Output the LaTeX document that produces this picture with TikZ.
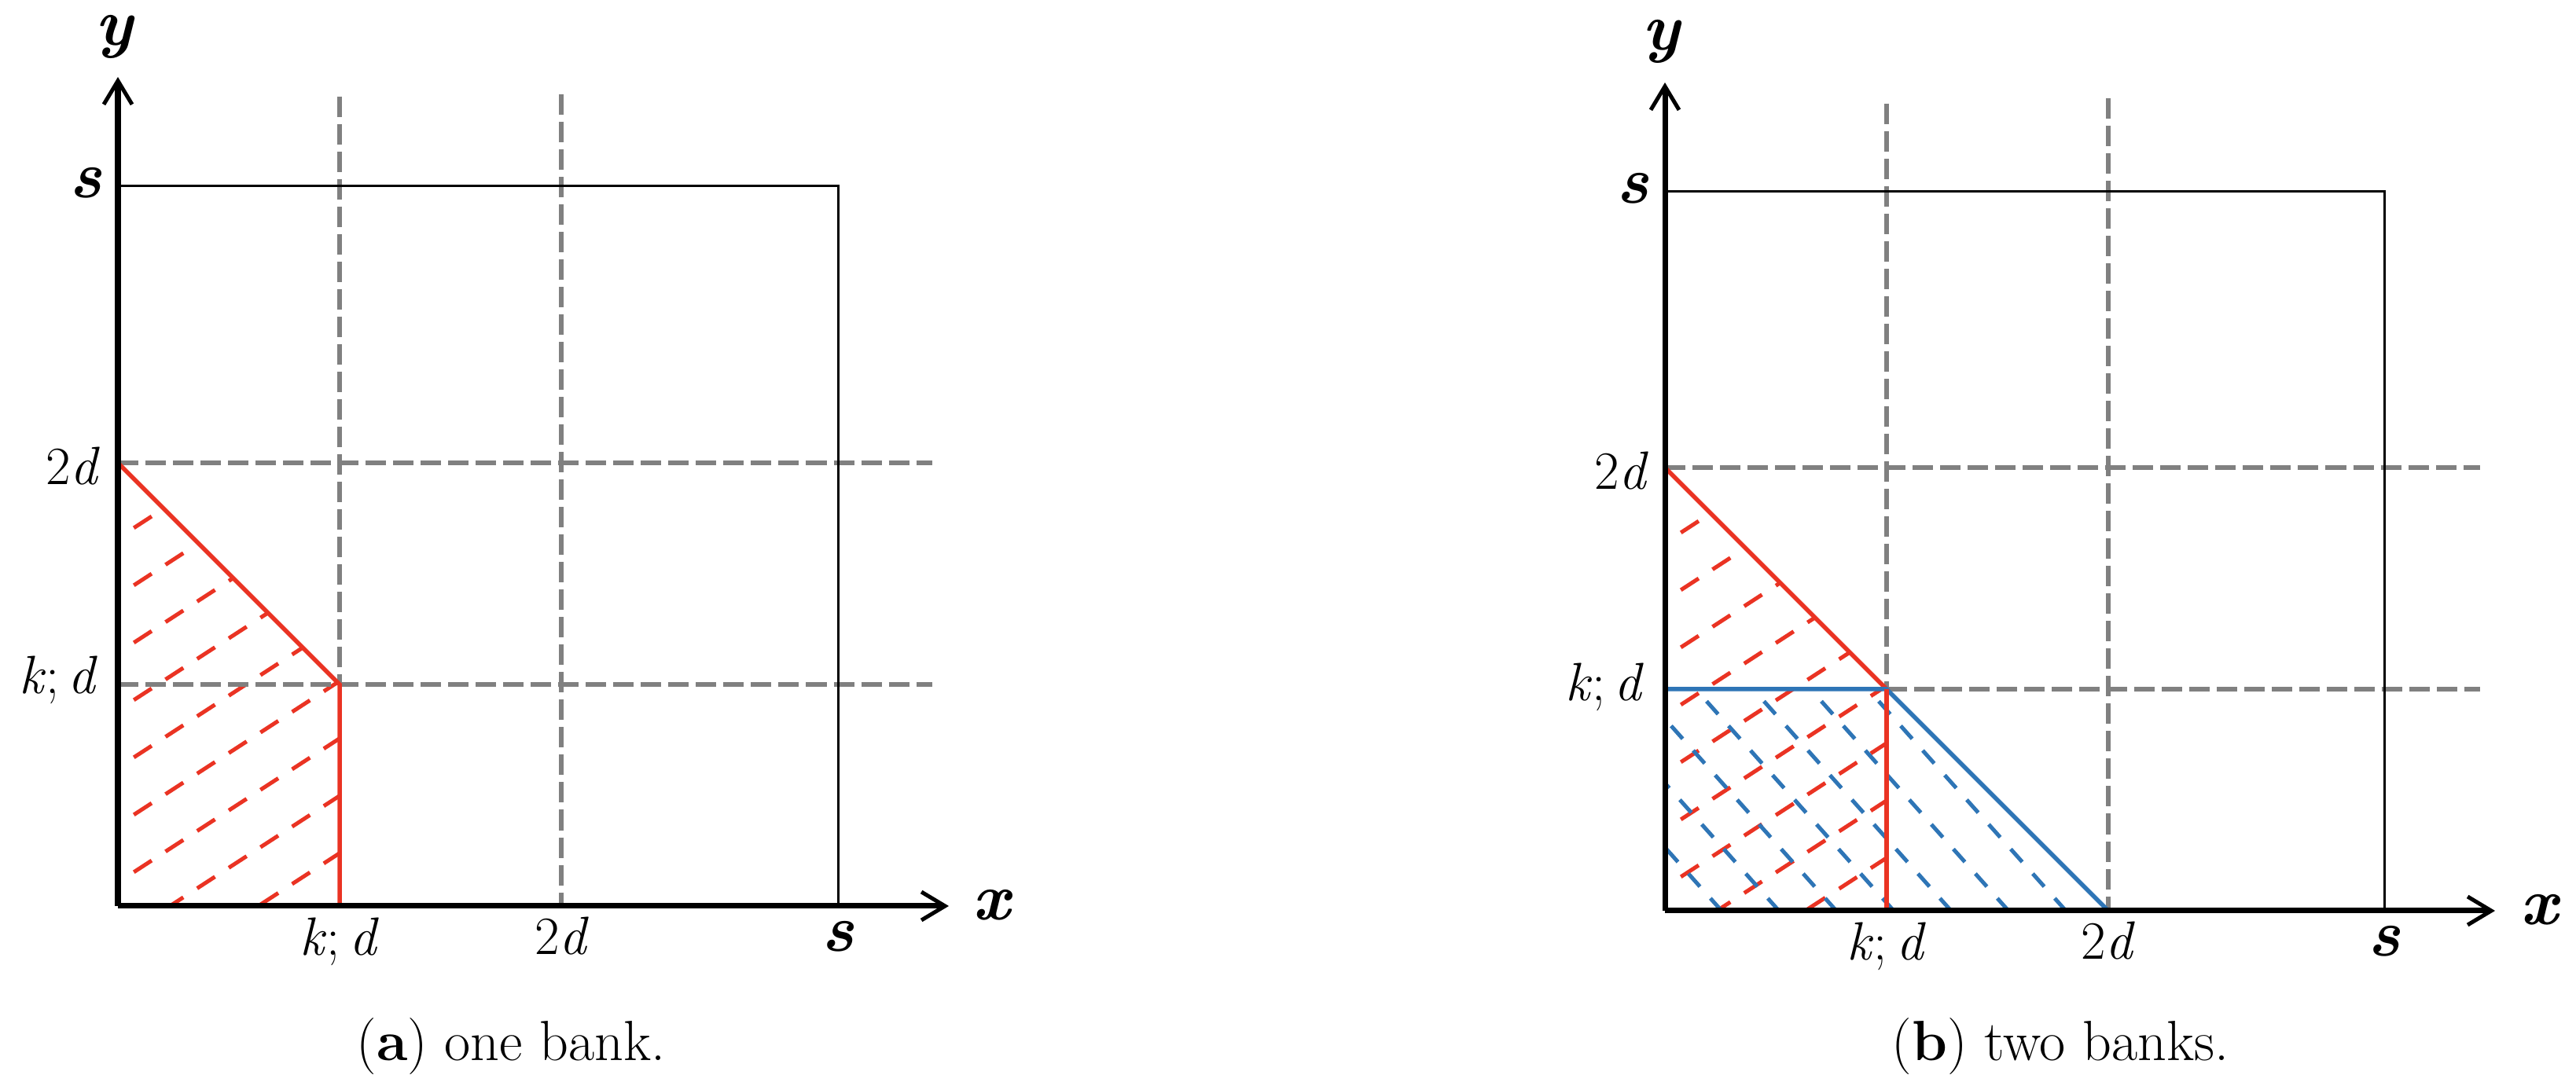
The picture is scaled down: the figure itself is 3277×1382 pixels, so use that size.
\documentclass[tikz,border=0pt]{standalone}
\usepackage{fontspec}
\usetikzlibrary{arrows.meta}
\definecolor{hred}{RGB}{234,51,35}
\definecolor{hblue}{RGB}{46,117,182}
\definecolor{hgray}{RGB}{128,128,128}
\newcommand{\bi}[1]{\textbf{\textit{#1}}}
\newcommand{\kd}{\textit{k};\,\textit{d}}
\newcommand{\twod}{2\textit{d}}
\begin{document}
\begin{tikzpicture}[x=0.01cm,y=0.01cm,
 axisline/.style={line width=0.07cm,-{Straight Barb[length=0.3cm,width=0.36cm,line width=0.05cm]}},
 gridline/.style={hgray,line width=0.06cm,dash pattern=on 0.26cm off 0.09cm},
 frameline/.style={black,line width=0.03cm},
 redline/.style={hred,line width=0.055cm},
 blueline/.style={hblue,line width=0.055cm},
 redhatch/.style={hred,line width=0.05cm,dash pattern=on 0.27cm off 0.21cm},
 bluehatch/.style={hblue,line width=0.05cm,dash pattern=on 0.22cm off 0.2cm},
 ticklab/.style={inner sep=0pt,font=\fontsize{19.5}{19.5}\selectfont},
 boldlab/.style={inner sep=0pt,font=\fontsize{24}{24}\selectfont},
 captext/.style={inner sep=0pt,font=\fontsize{20.5}{20.5}\selectfont,anchor=base},
]
\useasboundingbox (0,0) rectangle (3277,1382);

% ---------------- panel (a) ----------------
\begin{scope}[shift={(150,229)}]
  \coordinate (Ao) at (0,0);
  \coordinate (Axe) at (1057,0);
  \coordinate (Aye) at (0,1055);
  \begin{scope}
    \clip (0,0) -- (0,564) -- (282,282) -- (282,0) -- cycle;
    \foreach \k in {-3,...,7} {
      \pgfmathsetmacro\c{30+73*\k}
      \draw[redhatch] (-20,\c-13) -- (620,\c+403);
    }
  \end{scope}
  \draw[gridline] (0,564) -- (1036,564);
  \draw[gridline] (0,282) -- (1036,282);
  \draw[gridline] (282,1030) -- (282,282);
  \draw[gridline] (564,1033) -- (564,0);
  \draw[frameline] (0,916) -- (916,916) -- (916,0);
  \draw[redline] (0,564) -- (282,282) -- (282,0);
  \draw[axisline] (Ao) -- (Axe);
  \draw[axisline] (Ao) -- (Aye);
  \node[boldlab] (Ax) at (1113,1) {\bi{x}};
  \node[boldlab] (Ay) at (-3,1106) {\bi{y}};
  \node[boldlab,anchor=east] (As) at (-20,920) {\bi{s}};
  \node[ticklab,anchor=base east] (A2d) at (-22,536) {\twod};
  \node[ticklab,anchor=base east] (Akd) at (-25,270) {\kd};
  \node[ticklab,anchor=base] (Bkdx) at (282,-63) {\kd};
  \node[ticklab,anchor=base] (B2dx) at (565,-62) {\twod};
  \node[boldlab,anchor=north] (Bsx) at (916,-19) {\bi{s}};
\end{scope}
\node[captext] (capa) at (650,32) {(\textbf{a}) one bank.};

% ---------------- panel (b) ----------------
\begin{scope}[shift={(2118,223)}]
  \coordinate (Co) at (0,0);
  \coordinate (Cxe) at (1056,0);
  \coordinate (Cye) at (0,1054);
  \begin{scope}
    \clip (0,0) -- (0,564) -- (282,282) -- (282,0) -- cycle;
    \foreach \k in {-3,...,7} {
      \pgfmathsetmacro\c{30+73*\k}
      \draw[redhatch] (-20,\c-13) -- (620,\c+403);
    }
  \end{scope}
  \begin{scope}
    \clip (0,0) -- (0,282) -- (282,282) -- (564,0) -- cycle;
    \foreach \k in {0,...,7} {
      \pgfmathsetmacro\xo{72+73*\k}
      \draw[bluehatch] (\xo-350,392) -- (\xo+30,-33.6);
    }
  \end{scope}
  \draw[gridline] (0,564) -- (1037,564);
  \draw[gridline] (282,282) -- (1037,282);
  \draw[gridline] (282,1027) -- (282,282);
  \draw[gridline] (564,1034) -- (564,0);
  \draw[frameline] (0,915) -- (915,915) -- (915,0);
  \draw[redline] (0,564) -- (282,282);
  \draw[blueline] (0,282) -- (282,282) -- (564,0);
  \draw[redline] (282,282) -- (282,0);
  \draw[axisline] (Co) -- (Cxe);
  \draw[axisline] (Co) -- (Cye);
  \node[boldlab] (Cx) at (1114,1) {\bi{x}};
  \node[boldlab] (Cy) at (-3,1106) {\bi{y}};
  \node[boldlab,anchor=east] (Cs) at (-20,919) {\bi{s}};
  \node[ticklab,anchor=base east] (C2d) at (-20,536) {\twod};
  \node[ticklab,anchor=base east] (Ckd) at (-26,267) {\kd};
  \node[ticklab,anchor=base] (Dkdx) at (282,-63) {\kd};
  \node[ticklab,anchor=base] (D2dx) at (564,-62) {\twod};
  \node[boldlab,anchor=north] (Dsx) at (915,-19) {\bi{s}};
\end{scope}
\node[captext] (capb) at (2621,32) {(\textbf{b}) two banks.};
\end{tikzpicture}
\end{document}
